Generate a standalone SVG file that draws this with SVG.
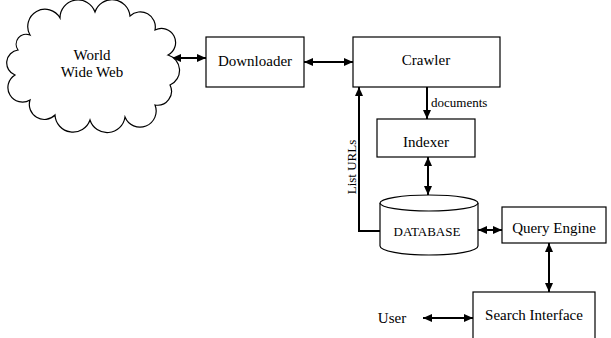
<svg xmlns="http://www.w3.org/2000/svg" width="611" height="338" viewBox="0 0 611 338">
<style>
.box{fill:#fff;stroke:#000;stroke-width:1.2}
.t{font-family:"Liberation Serif","Times New Roman",serif;font-size:15px;fill:#000;text-anchor:middle}
.s{font-size:13px}
.c{fill:none;stroke:#000;stroke-width:2}
</style>
<defs>
<marker id="ah" markerUnits="userSpaceOnUse" markerWidth="9" markerHeight="8" refX="9" refY="4" orient="auto-start-reverse">
<path d="M0,0 L9,4 L0,8 z" fill="#000"/>
</marker>
</defs>
<rect width="611" height="338" fill="#fff"/>
<g id="connectors">
<line class="c" x1="172" y1="58" x2="206" y2="58" marker-start="url(#ah)" marker-end="url(#ah)"/>
<line class="c" x1="304" y1="62" x2="353" y2="62" marker-start="url(#ah)" marker-end="url(#ah)"/>
<line class="c" x1="427" y1="87" x2="427" y2="119" marker-end="url(#ah)"/>
<line class="c" x1="428" y1="157" x2="428" y2="195" marker-start="url(#ah)" marker-end="url(#ah)"/>
<line class="c" x1="478" y1="230" x2="502" y2="230" marker-start="url(#ah)" marker-end="url(#ah)"/>
<line class="c" x1="549" y1="243" x2="549" y2="292" marker-start="url(#ah)" marker-end="url(#ah)"/>
<line class="c" x1="423" y1="318" x2="473" y2="318" marker-start="url(#ah)" marker-end="url(#ah)"/>
<polyline class="c" points="380,231 359,231 359,87" marker-end="url(#ah)"/>
<text class="t s" x="431" y="107" style="text-anchor:start">documents</text>
<text class="t s" transform="translate(356,167) rotate(-90)">List URLs</text>
</g>
<g id="www">
<path class="box" d="M30,35 A17,17 0 0 1 60,18 A18,18 0 0 1 95,12 A18,18 0 0 1 130,16 A15,15 0 0 1 155,30 A14,14 0 0 1 168,55 A16,16 0 0 1 170,85 A14,14 0 0 1 155,105 A16,16 0 0 1 125,117 A18,18 0 0 1 90,120 A18,18 0 0 1 55,115 A15,15 0 0 1 30,100 A14,14 0 0 1 15,75 A13,13 0 0 1 18,50 A10,10 0 0 1 30,35 z"/>
<text class="t" x="92" y="60">World</text>
<text class="t" x="92" y="77">Wide Web</text>
</g>
<g id="downloader">
<rect class="box" x="206" y="37" width="98" height="50"/>
<text class="t" x="255" y="66">Downloader</text>
</g>
<g id="crawler">
<rect class="box" x="353" y="37" width="147" height="50"/>
<text class="t" x="426" y="65">Crawler</text>
</g>
<g id="indexer">
<rect class="box" x="377" y="119" width="98" height="38"/>
<text class="t" x="426" y="147">Indexer</text>
</g>
<g id="database">
<path class="box" d="M380,203 L380,246 A49,9 0 0 0 478,246 L478,203"/>
<ellipse class="box" cx="429" cy="203" rx="49" ry="8"/>
<text class="t s" x="427" y="236">DATABASE</text>
</g>
<g id="query-engine">
<rect class="box" x="502" y="207" width="104" height="36"/>
<text class="t" x="554" y="233">Query Engine</text>
</g>
<g id="search-interface">
<rect class="box" x="473" y="292" width="122" height="50"/>
<text class="t" x="534" y="320">Search Interface</text>
</g>
<g id="user">
<text class="t" x="392" y="323">User</text>
</g>
</svg>
